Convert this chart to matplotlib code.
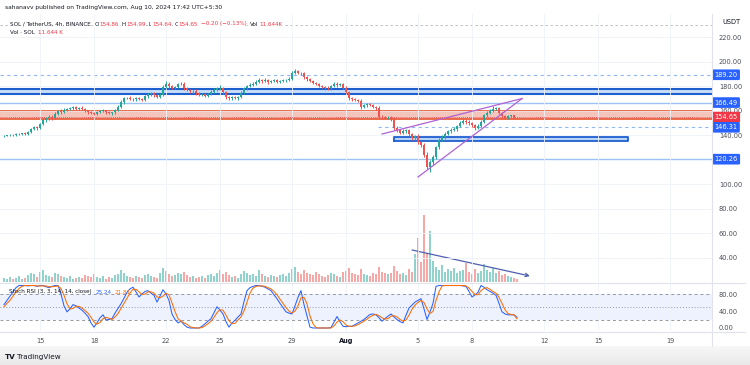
import matplotlib
matplotlib.use("Agg")
import matplotlib.pyplot as plt
import matplotlib.transforms as mtransforms
import numpy as np

# ---------------- data ----------------
first_open = 139.3
closes = [
    139.5,139.8,140.2,139.7,140.6,141.0,141.3,140.6,142.5,144.8,
    146.5,145.6,149.0,152.0,153.5,155.0,153.8,157.5,159.5,158.6,
    160.8,161.5,162.0,162.8,161.4,162.3,161.2,160.2,158.8,158.0,
    157.2,158.6,159.4,160.2,158.5,157.6,158.4,160.5,163.0,167.0,
    170.0,170.5,169.6,169.0,170.3,169.5,168.9,171.5,173.2,174.0,
    172.3,171.4,173.0,179.5,182.0,180.0,178.2,179.2,181.5,182.0,
    178.0,176.8,175.6,176.2,174.0,173.0,173.6,172.0,173.5,175.5,
    177.0,178.0,178.5,175.0,171.0,170.0,170.8,170.0,171.0,174.5,
    178.0,180.0,181.2,182.0,183.5,185.0,183.8,185.0,183.2,184.0,
    184.8,183.3,184.0,184.7,185.2,186.0,190.5,192.0,190.8,190.4,
    187.0,185.5,184.0,182.6,181.5,180.0,179.2,178.5,178.0,179.8,
    182.0,180.8,181.4,178.5,175.0,170.0,169.2,168.5,168.0,163.0,
    164.2,165.0,164.5,163.0,162.0,155.0,154.5,154.0,154.3,153.0,
    146.0,144.0,142.0,143.2,144.0,141.0,137.5,139.0,134.0,132.0,
    124.0,114.0,118.0,122.0,130.0,136.0,138.5,141.0,143.0,144.0,
    145.0,147.5,150.0,151.5,150.6,149.8,148.0,146.0,147.5,151.0,
    156.0,158.0,160.0,161.5,162.0,158.0,155.5,154.0,155.2,156.0,
    154.86,154.65]
wick_hi = [
    0.5,0.4,0.6,0.5,0.7,0.5,0.4,0.8,0.6,0.9,
    1.0,0.8,1.2,1.5,0.9,1.1,1.3,1.0,1.2,1.6,
    1.0,0.8,1.2,0.9,1.1,0.7,1.0,0.8,0.6,0.9,
    0.8,1.0,1.4,0.8,0.6,0.9,0.7,1.0,1.3,1.8,
    1.2,0.9,1.1,0.8,1.0,0.9,0.7,1.2,1.0,1.4,
    0.9,1.0,1.2,1.5,1.8,1.0,0.9,1.2,1.3,1.1,
    1.0,0.8,0.9,0.7,1.0,0.8,0.6,0.9,1.1,1.2,
    1.3,1.5,2.5,1.0,0.8,1.1,1.0,0.7,0.9,1.4,
    1.2,1.0,0.9,1.3,1.1,1.5,0.9,1.2,1.0,0.8,
    1.1,0.9,1.0,1.2,0.8,1.3,1.6,2.0,1.2,0.9,
    1.0,0.8,1.1,0.9,0.7,1.0,0.8,0.9,1.2,1.0,
    1.5,1.0,0.9,1.1,1.3,1.2,0.9,1.0,1.1,1.4,
    1.0,1.2,0.8,1.0,0.9,1.3,1.1,0.9,1.2,1.0,
    1.5,1.2,1.0,1.4,1.1,1.3,1.0,1.2,1.5,1.1,
    1.4,2.0,1.5,1.5,1.2,1.8,1.4,1.1,1.3,1.6,
    1.2,1.0,1.4,1.8,1.2,1.5,1.0,1.3,1.1,1.2,
    1.5,1.3,1.6,1.8,1.2,1.0,0.9,1.1,0.8,0.7,
    0.6,0.13]
wick_lo = [
    0.6,0.5,0.4,0.7,0.5,0.6,0.8,0.5,0.7,0.6,
    0.9,1.1,0.8,1.0,1.3,0.9,1.2,0.8,1.0,1.4,
    0.8,1.0,0.9,1.2,0.7,1.0,0.9,1.1,1.3,0.8,
    1.2,0.9,0.7,1.0,1.1,0.8,1.0,0.9,1.2,1.0,
    1.3,1.0,0.8,1.2,0.9,1.1,1.0,0.8,1.0,1.2,
    1.1,0.9,1.3,1.0,1.2,1.4,1.0,0.9,1.1,1.0,
    1.2,1.0,1.1,0.9,1.3,1.0,1.2,0.8,1.0,0.9,
    1.0,1.2,0.9,1.4,1.6,1.8,1.1,1.0,1.2,0.9,
    1.0,0.9,1.1,0.8,1.2,1.0,1.1,0.9,1.3,1.0,
    0.9,1.2,1.0,0.8,1.1,0.9,1.2,1.0,1.3,1.1,
    1.2,1.0,1.1,1.3,0.9,1.2,1.0,1.4,1.6,1.1,
    1.0,1.2,1.1,1.3,1.0,1.4,1.1,1.0,1.2,1.5,
    1.3,1.0,1.2,1.1,1.4,1.6,1.2,1.0,1.3,1.5,
    1.8,1.4,1.2,1.0,1.3,1.5,1.2,1.4,1.6,1.8,
    2.0,2.0,4.0,2.5,1.5,1.8,1.2,1.4,1.0,1.3,
    1.1,1.4,1.0,1.2,1.5,1.3,1.6,1.8,1.2,1.0,
    1.1,1.3,1.0,1.2,1.4,1.1,1.3,1.0,0.9,0.8,
    0.6,0.01]
volume_k = [
    16,12,20,12,16,24,12,16,28,36,
    32,20,40,48,28,24,20,36,32,24,
    20,16,24,12,16,20,16,28,24,20,
    32,20,16,24,12,20,16,28,32,48,
    36,24,20,16,24,20,16,28,32,24,
    20,16,36,56,44,32,24,28,36,32,
    40,28,20,24,16,20,24,16,28,32,
    24,36,48,32,40,28,20,24,16,32,
    44,36,28,32,24,48,32,24,20,28,
    24,20,28,32,24,36,52,60,40,32,
    48,36,32,28,40,32,24,20,28,36,
    32,24,20,40,44,56,36,32,28,52,
    32,28,24,36,32,60,40,36,32,36,
    64,44,32,36,28,52,40,112,176,80,
    268,116,204,84,60,48,68,40,52,44,
    56,36,44,48,76,40,32,52,36,44,
    72,48,40,56,36,44,28,32,24,20,
    16,11.644]
stoch_k = [
    55,65,75,85,95,100,100,100,99,100,
    100,98,100,100,97,95,98,100,100,80,
    52,38,45,55,52,47,42,35,27,12,
    2,12,24,31,19,20,22,35,46,57,
    70,84,92,96,85,73,80,86,88,82,
    77,61,75,90,80,65,33,20,12,16,
    8,2,0,0,0,0,4,10,16,22,
    36,50,42,33,15,2,12,18,26,33,
    62,88,95,98,100,100,98,96,92,88,
    78,69,58,48,38,35,33,52,72,88,
    55,28,2,0,0,0,0,0,0,1,
    14,27,15,4,3,4,4,8,12,16,
    20,26,32,33,31,24,16,22,28,33,
    26,20,15,12,30,47,54,61,65,69,
    45,20,38,58,98,100,100,100,100,100,
    100,100,100,99,98,86,73,78,84,100,
    96,90,86,82,77,58,38,33,31,31,
    31,25.24]
stoch_d = [
    50,58,65,75,85,93,98,100,100,100,
    100,99,99,99,99,97,97,98,99,93,
    77,57,45,46,51,51,47,41,35,25,
    14,9,13,22,25,23,20,26,34,46,
    58,70,82,91,91,85,79,80,85,85,
    82,73,71,75,82,78,59,39,22,16,
    12,9,3,1,0,0,1,5,10,16,
    25,36,43,42,30,17,10,11,19,26,
    40,61,82,94,98,99,99,98,95,92,
    86,78,68,58,48,40,35,40,52,71,
    72,57,28,10,1,0,0,0,0,0,
    5,14,19,15,7,4,4,5,8,12,
    16,21,26,30,32,29,24,21,22,28,
    29,26,20,16,19,30,44,54,60,65,
    60,45,34,39,65,85,99,100,100,100,
    100,100,100,100,99,94,86,79,78,88,
    93,95,91,86,82,72,58,43,34,32,
    31,21.81]
date_pos = [12, 30, 54, 72, 96, 114, 138, 156, 180, 198, 222]
date_labels = ["15", "18", "22", "25", "29", "Aug", "5", "8", "12", "15", "19"]
price_ticks = [40, 60, 80, 100, 140, 160, 180, 200, 220]
stoch_ticks = [0, 40, 80]
level_prices = [189.20, 166.49, 154.65, 146.31, 120.26]
level_colors = ["#2962ff", "#2962ff", "#f23645", "#2962ff", "#2962ff"]

# ---------------- figure ----------------
W, H = 750, 365
plt.rcParams["font.family"] = ["DejaVu Sans"]
fig = plt.figure(figsize=(7.5, 3.65), dpi=100)
fig.patch.set_facecolor("white")

def fx(px):
    return px / W

def fy(py):
    return 1 - py / H

TXT = "#131722"
AX = "#4a4e59"
UP, DN = "#26a69a", "#ef5350"
RED = "#f23645"

n = len(closes)
xs = np.arange(n)
opens = np.array([first_open] + closes[:-1])
cl = np.array(closes)
highs = np.maximum(opens, cl) + np.array(wick_hi)
lows = np.minimum(opens, cl) - np.array(wick_lo)
up = cl >= opens

x_left, x_right = -4 / 3, 236

# price pane
ax = fig.add_axes([0, fy(282), fx(712), (282 - 14) / H])
axv = ax.twinx()
axv.set_zorder(ax.get_zorder() - 1)
ax.patch.set_visible(False)
axv.patch.set_facecolor("white")

ax.set_xlim(x_left, x_right)
ax.set_ylim(20.0, 238.8)
axv.set_ylim(0, 1072)

for a in (ax, axv):
    for s in a.spines.values():
        s.set_visible(False)
axv.set_yticks([])
ax.set_xticks(date_pos)
ax.tick_params(axis="x", length=0, labelbottom=False)
ax.yaxis.tick_right()
ax.set_yticks(price_ticks)
ax.set_yticklabels([f"{v:.2f}" for v in price_ticks])
ax.tick_params(axis="y", length=0, pad=5, labelsize=4.8, labelcolor=AX)
ax.grid(True, color="#eef1f6", lw=0.6, zorder=0)

# volume
vcols = [UP if u else DN for u in up]
axv.bar(xs, volume_k, width=0.8, color=vcols, alpha=0.5, linewidth=0)
axv.annotate("", xy=(175.3, 24), xytext=(136, 128),
             arrowprops=dict(arrowstyle="->", color="#4f5fb0", lw=0.9,
                             shrinkA=0, shrinkB=0, mutation_scale=6))

# bands & levels
ax.axhspan(173.5, 177.6, color="#bbd5f7", alpha=0.8, lw=0, zorder=1)
ax.axhline(177.6, color="#1e5fd0", lw=1.5, zorder=1.5)
ax.axhline(173.5, color="#1e5fd0", lw=1.5, zorder=1.5)
ax.axhspan(153.0, 159.5, color="#f0b2a6", alpha=0.75, lw=0, zorder=1)
ax.axhline(159.5, color="#e8603c", lw=1.3, zorder=1.5)
ax.axhline(153.0, color="#e8603c", lw=1.3, zorder=1.5)
ax.axhline(154.65, color="#f23645", lw=0.6, ls=(0, (1, 1.5)), zorder=1.6)
ax.axhline(166.49, color="#9cc2f5", lw=1.0, zorder=1.5)
ax.axhline(120.26, color="#9cc2f5", lw=1.0, zorder=1.5)
ax.axhline(189.20, color="#90b8f0", lw=0.8, ls=(0, (3, 3)), zorder=1.5)
ax.plot([124.7, x_right], [146.31, 146.31], color="#90b8f0", lw=0.8,
        ls=(0, (3, 3)), zorder=1.5)
ax.axhline(229.8, color="#b2b5be", lw=0.6, ls=(0, (3, 3)), zorder=1.5)
ax.fill_between([130, 208], 135.3, 138.6, color="#bbd5f7", lw=0, zorder=1)
ax.plot([130, 208, 208, 130, 130], [135.3, 135.3, 138.6, 138.6, 135.3],
        color="#1e5fd0", lw=1.3, zorder=1.5)

# candles
wcols = [UP if u else DN for u in up]
ax.vlines(xs, lows, highs, colors=wcols, lw=0.7, zorder=3)
body_h = np.maximum(np.abs(cl - opens), 0.3)
ax.bar(xs, body_h, bottom=np.minimum(opens, cl), width=0.82,
       color=wcols, linewidth=0, zorder=3.1)

# wedge
ax.plot([126, 172.7], [140.8, 169.8], color="#b062d3", lw=0.9, zorder=4)
ax.plot([138, 172.7], [105.7, 169.8], color="#b062d3", lw=0.9, zorder=4)

# level labels on the price scale
blend = mtransforms.blended_transform_factory(ax.transAxes, ax.transData)
for p, c in zip(level_prices, level_colors):
    ax.text(1.0 + 2.5 / 712, p, f"{p:.2f}", transform=blend, ha="left",
            va="center", fontsize=4.8, color="white", clip_on=False,
            zorder=10,
            bbox=dict(boxstyle="round,pad=0.35,rounding_size=0.2", fc=c,
                      ec="none"))

# stoch pane
axs = fig.add_axes([0, fy(331), fx(712), (331 - 283) / H])
axs.set_xlim(x_left, x_right)
axs.set_ylim(-7.06, 105.9)
for s in axs.spines.values():
    s.set_visible(False)
axs.axhspan(20, 80, color="#2962ff", alpha=0.08, lw=0)
for lv, ls in ((80, (0, (3, 3))), (50, (0, (1, 2))), (20, (0, (3, 3)))):
    axs.axhline(lv, color="#9598a1", lw=0.7, ls=ls)
axs.plot(xs, stoch_k, color="#2962ff", lw=0.75)
axs.plot(xs, stoch_d, color="#ff6d00", lw=0.75)
axs.yaxis.tick_right()
axs.set_yticks(stoch_ticks)
axs.set_yticklabels([f"{v:.2f}" for v in stoch_ticks])
axs.tick_params(axis="y", length=0, pad=5, labelsize=4.8, labelcolor=AX)
axs.set_xticks(date_pos)
axs.set_xticklabels(date_labels)
axs.tick_params(axis="x", length=0, pad=5, labelsize=4.8, labelcolor=AX)
for t in axs.get_xticklabels():
    if t.get_text() == "Aug":
        t.set_fontweight("bold")
        t.set_color(TXT)
axs.grid(True, axis="x", color="#eef1f6", lw=0.6)

# separators
sep = "#e0e3eb"
fig.add_artist(plt.Line2D([fx(712), fx(712)], [fy(14), fy(346)], color=sep, lw=0.8))
fig.add_artist(plt.Line2D([0, fx(745)], [fy(282.5), fy(282.5)], color=sep, lw=0.8))
fig.add_artist(plt.Line2D([0, fx(745)], [fy(331.5), fy(331.5)], color=sep, lw=0.8))

# bottom bar gradient
axb = fig.add_axes([0, 0, 1, 19 / H])
grad = np.linspace(0, 1, 50).reshape(-1, 1)
axb.imshow(grad, aspect="auto", cmap=matplotlib.colors.LinearSegmentedColormap.from_list(
    "g", ["#e9e9e9", "#f7f7f7"]), extent=[0, 1, 0, 1], origin="lower")
axb.set_axis_off()
fig.text(fx(5), fy(357), "TV", fontsize=5.2, fontweight="bold", color=TXT, va="center")
fig.text(fx(17), fy(357), "TradingView", fontsize=5.2, color=TXT, va="center")

# sequential text layout helper
renderer = fig.canvas.get_renderer()

def text_row(x_px, y_px, pieces, size, bbox=None):
    x = x_px
    for txt, col, gap in pieces:
        t = fig.text(fx(x), fy(y_px), txt, fontsize=size, color=col,
                     va="center", ha="left", bbox=bbox)
        w = t.get_window_extent(renderer=renderer).width
        if bbox is not None:
            w = t.get_window_extent(renderer=renderer).width
        x += w + gap

fig.text(fx(5), fy(7), "sahanavv published on TradingView.com, Aug 10, 2024 17:42 UTC+5:30",
         fontsize=4.3, color=TXT, va="center")
wb = dict(fc="white", ec="none", pad=0.5)
text_row(10, 24, [
    ("SOL / TetherUS, 4h, BINANCE", TXT, 4),
    ("O", TXT, 0.3), ("154.86", RED, 3),
    ("H", TXT, 0.3), ("154.99", RED, 3),
    ("L", TXT, 0.3), ("154.64", RED, 3),
    ("C", TXT, 0.3), ("154.65", RED, 3),
    ("\u22120.20 (\u22120.13%)", RED, 3),
    ("Vol", TXT, 1.5), ("11.644K", RED, 0)], 4.1, bbox=wb)
text_row(10, 33, [("Vol \u00b7 SOL", TXT, 3), ("11.644 K", RED, 0)], 4.1)
fig.text(fx(731), fy(22), "USDT", fontsize=4.8, color=TXT, va="center", ha="center")

# stoch legend
text_row(9, 292, [("Stoch RSI (3, 3, 14, 14, close)", TXT, 4),
                  ("25.24", "#2962ff", 3), ("21.81", "#ff6d00", 0)], 4.1)

fig.savefig("out.png", dpi=100)
